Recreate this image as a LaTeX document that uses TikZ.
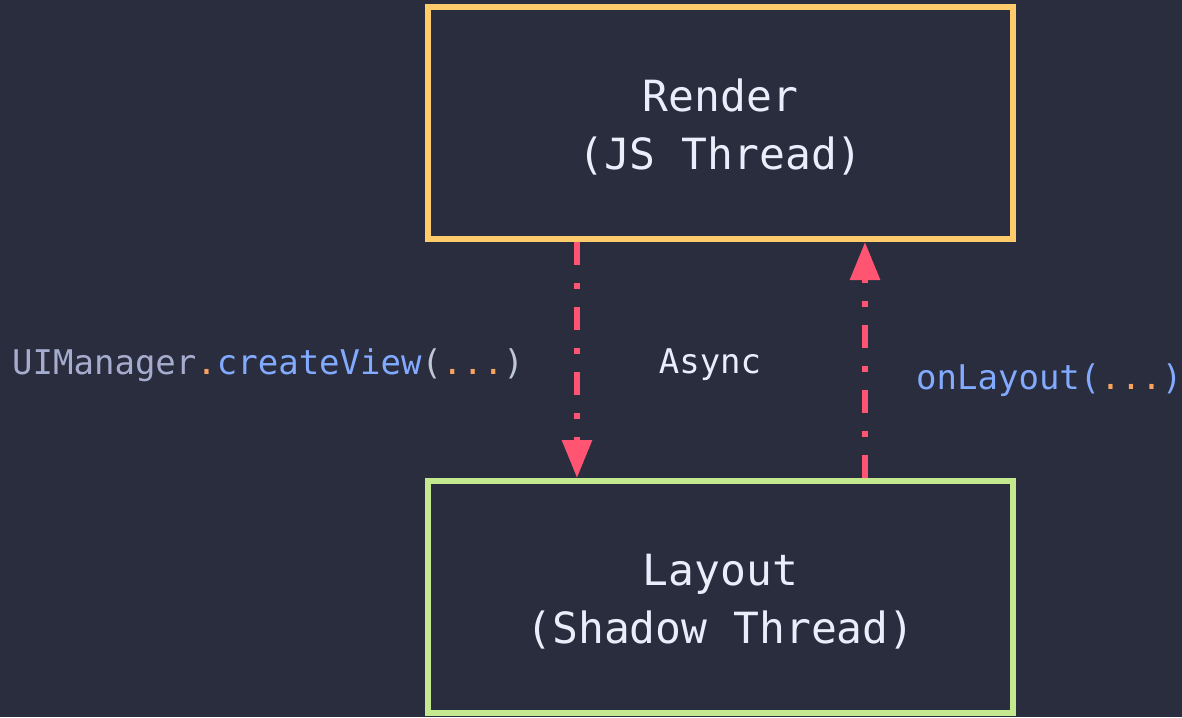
\documentclass[tikz,border=0pt]{standalone}
\usepackage{fontspec}
\setmainfont{DejaVu Sans Mono}
\usetikzlibrary{arrows.meta}
\definecolor{bg}{HTML}{292D3E}
\definecolor{boxyellow}{HTML}{FFCB6B}
\definecolor{boxgreen}{HTML}{C3E88D}
\definecolor{arrowred}{HTML}{FF5572}
\definecolor{txt}{HTML}{E8EEFA}
\definecolor{codegray}{HTML}{A6ACCD}
\definecolor{codeblue}{HTML}{82AAFF}
\definecolor{codeorange}{HTML}{F8A35E}
\definecolor{codeparen}{HTML}{BFC7D5}
\tikzset{
  threadbox/.style={draw, line width=6pt, minimum width=585pt, minimum height=232pt,
    inner sep=0pt, align=center, text=txt, font=\fontsize{43}{58}\selectfont},
  asyncarrow/.style={draw=arrowred, line width=6pt,
    dash pattern=on 23pt off 18pt on 6pt off 18pt,
    -{Triangle[width=29pt,length=38pt]}},
  codelabel/.style={inner sep=0pt, font=\fontsize{34}{40}\selectfont}
}
\begin{document}
\begin{tikzpicture}[x=1pt,y=-1pt]
\fill[bg] (0,0) rectangle (1182,717);
\useasboundingbox (0,0) rectangle (1182,717);
\node[threadbox, draw=boxyellow] (render) at (720.5,123) {\rule{0pt}{41pt}Render\\(JS Thread)};
\node[threadbox, draw=boxgreen] (layout) at (720.5,597) {\rule{0pt}{41pt}Layout\\(Shadow Thread)};
\coordinate (a1s) at (render.south -| 577,0);
\coordinate (a1e) at (layout.north -| 577,0);
\coordinate (a2s) at (layout.north -| 865,0);
\coordinate (a2e) at (render.south -| 865,0);
\draw[asyncarrow] (a1s) -- (a1e);
\draw[asyncarrow] (a2s) -- (a2e);
\node[codelabel, anchor=west] (create) at (12,365) {\textcolor{codegray}{UIManager}\textcolor{codeorange}{.}\textcolor{codeblue}{createView}\textcolor{codeparen}{(}\textcolor{codeorange}{...}\textcolor{codeparen}{)}};
\node[codelabel, text=txt] (async) at (710,365) {Async};
\node[codelabel, anchor=west] (onlayout) at (916,380) {\textcolor{codeblue}{onLayout(}\textcolor{codeorange}{...}\textcolor{codeblue}{)}};
\end{tikzpicture}
\end{document}
